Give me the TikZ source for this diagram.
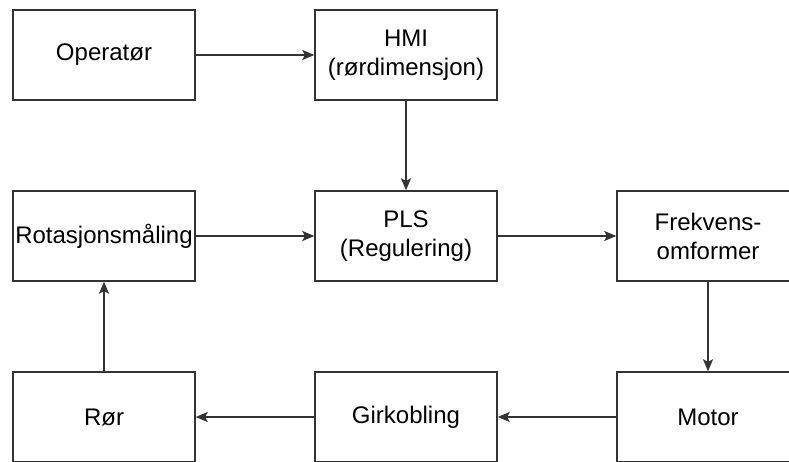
\documentclass[tikz,border=0pt]{standalone}
\usepackage{fontspec}
\setmainfont{Liberation Sans}
\usetikzlibrary{arrows.meta}
\definecolor{edge}{HTML}{333333}
\begin{document}
\begin{tikzpicture}[x=1pt,y=-1pt,
  blk/.style={draw=edge,line width=1.4pt,fill=white,minimum width=182pt,minimum height=90pt,
    inner sep=0pt,align=center,font=\fontsize{24}{29}\selectfont,text=black},
  conn/.style={draw=edge,line width=1.4pt,-{Stealth[length=12pt,width=10pt,inset=2.5pt]}}]
\useasboundingbox (0,0) rectangle (789,462);
\fill[white] (0,0) rectangle (789,462);
\node[blk] (op)  at (104,55)  {Operatør};
\node[blk] (hmi) at (406,55)  {HMI\\(rørdimensjon)};
\node[blk] (rot) at (104,236) {Rotasjonsmåling};
\node[blk] (pls) at (406,236) {PLS\\(Regulering)};
\node[blk] (fre) at (708,236) {Frekvens-\\omformer};
\node[blk] (ror) at (104,417) {Rør};
\node[blk] (gir) at (406,417) {Girkobling};
\node[blk] (mot) at (708,417) {Motor};
\draw[conn] (op) -- (hmi);
\draw[conn] (hmi) -- (pls);
\draw[conn] (rot) -- (pls);
\draw[conn] (pls) -- (fre);
\draw[conn] (fre) -- (mot);
\draw[conn] (mot) -- (gir);
\draw[conn] (gir) -- (ror);
\draw[conn] (ror) -- (rot);
\end{tikzpicture}
\end{document}
